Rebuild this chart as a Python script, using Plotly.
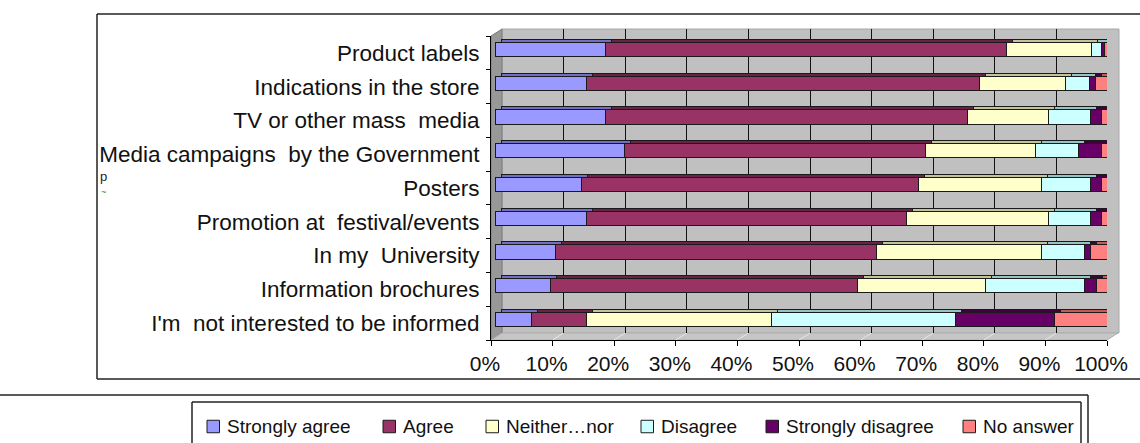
import plotly.graph_objects as go

# ---- data -------------------------------------------------------------
CATEGORIES = [
    "Product labels",
    "Indications in the store",
    "TV or other mass\u00a0 media",
    "Media campaigns\u00a0 by the Government",
    "Posters",
    "Promotion at\u00a0 festival/events",
    "In my\u00a0 University",
    "Information brochures",
    "I'm\u00a0 not interested to be informed",
]
SERIES = ["Strongly agree", "Agree", "Neither\u2026nor", "Disagree",
          "Strongly disagree", "No answer"]

STRONGLY_AGREE = [17.9, 14.7, 17.9, 20.9, 13.9, 14.7, 9.7, 8.9, 5.9]
AGREE = [65.0, 63.8, 58.8, 48.9, 54.8, 52.1, 52.2, 49.8, 8.8]
NEITHER = [13.8, 14.1, 13.0, 17.9, 19.9, 22.9, 26.7, 20.9, 30.1]
DISAGREE = [1.7, 3.8, 6.9, 7.0, 8.0, 6.9, 7.0, 16.0, 29.9]
STRONGLY_DISAGREE = [0.5, 1.0, 1.8, 3.7, 1.8, 1.8, 1.0, 1.9, 16.1]
NO_ANSWER = [1.1, 2.6, 1.6, 1.6, 1.6, 1.6, 3.4, 2.5, 9.2]

TICK_VALUES = [0, 10, 20, 30, 40, 50, 60, 70, 80, 90, 100]
TICK_LABELS = ["0%", "10%", "20%", "30%", "40%", "50%", "60%", "70%",
               "80%", "90%", "100%"]

# ---- styling ----------------------------------------------------------
FACE_COLORS = ["#9999FF", "#993366", "#FFFFCC", "#CCFFFF", "#660066", "#FF8080"]
TOP_COLORS = ["#6F6FC4", "#6A2247", "#C4C49A", "#95C4C4", "#420042", "#C45A5A"]
EDGE = "#1a1a1a"
FONT = "Liberation Sans, Arial, sans-serif"

W, H = 1140, 443


def fx(p):
    return p / W


def fy(p):
    return 1 - p / H


# geometry of the 3-D box (pixels)
FX0, FX1 = 491, 1107      # front plane 0% .. 100%
FY0, FY1 = 36, 340        # front plane top .. bottom
DX, DY = 11, -7           # depth of the box (back wall offset)
BX, BY = 5, -3            # bars' front face sits behind the front plane
TX, TY = 6, -3            # bar thickness seen as top / end faces
BAR_W = 0.42

n = len(CATEGORIES)
px_pct = (FX1 - FX0) / 100.0
px_row = (FY1 - FY0) / n


def x_range(dx):
    return [-dx / px_pct, 100 - dx / px_pct]


def y_range(dy):
    s = -dy / px_row
    return [n - 0.5 + s, -0.5 + s]


series_values = [STRONGLY_AGREE, AGREE, NEITHER, DISAGREE,
                 STRONGLY_DISAGREE, NO_ANSWER]

fig = go.Figure()

# empty traces so the wall-grid and front-axis subplots get drawn
fig.add_trace(go.Scatter(x=[], y=[], xaxis="x", yaxis="y",
                         showlegend=False, hoverinfo="skip"))

# bar bodies (top / end faces), drawn behind the front faces
for name, vals, col in zip(SERIES, series_values, TOP_COLORS):
    fig.add_trace(go.Bar(
        x=vals, y=CATEGORIES, orientation="h", name=name,
        xaxis="x2", yaxis="y2", width=BAR_W,
        marker=dict(color=col, line=dict(color=EDGE, width=1)),
        showlegend=False, hoverinfo="skip",
    ))

# bar front faces
for name, vals, col in zip(SERIES, series_values, FACE_COLORS):
    fig.add_trace(go.Bar(
        x=vals, y=CATEGORIES, orientation="h", name=name,
        xaxis="x3", yaxis="y3", width=BAR_W,
        marker=dict(color=col, line=dict(color=EDGE, width=1)),
        showlegend=False,
        hovertemplate="%{y}<br>" + name + ": %{x:.1f}%<extra></extra>",
    ))

fig.add_trace(go.Scatter(x=[], y=[], xaxis="x4", yaxis="y4",
                         showlegend=False, hoverinfo="skip"))

front_xdom = [fx(FX0), fx(FX1)]
front_ydom = [fy(FY1), fy(FY0)]
hidden = dict(visible=False, showgrid=False, zeroline=False, fixedrange=True,
              automargin=False)

shapes = []
# back wall, side wall and floor of the 3-D box
shapes.append(dict(type="rect", xref="paper", yref="paper", layer="below",
                   x0=fx(FX0 + DX), x1=fx(FX1 + DX + 1),
                   y0=fy(FY1 + DY), y1=fy(FY0 + DY),
                   fillcolor="#C0C0C0", line=dict(color="#A8A8A8", width=1)))
shapes.append(dict(type="path", xref="paper", yref="paper", layer="below",
                   path=(f"M{fx(FX0)},{fy(FY0)} L{fx(FX0 + DX)},{fy(FY0 + DY)} "
                         f"L{fx(FX0 + DX)},{fy(FY1 + DY)} L{fx(FX0)},{fy(FY1)} Z"),
                   fillcolor="#989898", line=dict(color="#7a7a7a", width=1)))
shapes.append(dict(type="path", xref="paper", yref="paper", layer="below",
                   path=(f"M{fx(FX0)},{fy(FY1)} L{fx(FX0 + DX)},{fy(FY1 + DY)} "
                         f"L{fx(FX1 + DX)},{fy(FY1 + DY)} L{fx(FX1)},{fy(FY1)} Z"),
                   fillcolor="#C6C6C6", line=dict(color="#B0B0B0", width=1)))
# gridlines running across the floor
for v in TICK_VALUES[1:-1]:
    xb = FX0 + DX + v * px_pct
    xf = FX0 + v * px_pct
    shapes.append(dict(type="line", xref="paper", yref="paper", layer="below",
                       x0=fx(xb), y0=fy(FY1 + DY), x1=fx(xf), y1=fy(FY1),
                       line=dict(color="#E8E8E8", width=1)))

# chart frame
frame = dict(color="#222222", width=1.5)
shapes += [
    dict(type="line", xref="paper", yref="paper", x0=fx(97), x1=1, y0=fy(14), y1=fy(14), line=frame),
    dict(type="line", xref="paper", yref="paper", x0=fx(97), x1=fx(97), y0=fy(14), y1=fy(379), line=frame),
    dict(type="line", xref="paper", yref="paper", x0=fx(97), x1=1, y0=fy(379), y1=fy(379), line=frame),
]
# legend frames
shapes += [
    dict(type="line", xref="paper", yref="paper", x0=0, x1=fx(1088), y0=fy(395), y1=fy(395), line=frame),
    dict(type="line", xref="paper", yref="paper", x0=fx(1088), x1=fx(1088), y0=fy(395), y1=0, line=frame),
    dict(type="line", xref="paper", yref="paper", x0=fx(192), x1=fx(1081), y0=fy(402), y1=fy(402), line=frame),
    dict(type="line", xref="paper", yref="paper", x0=fx(192), x1=fx(192), y0=fy(402), y1=0, line=frame),
    dict(type="line", xref="paper", yref="paper", x0=fx(1081), x1=fx(1081), y0=fy(402), y1=0, line=frame),
]

# legend keys
LEGEND_X = [207, 383, 486, 641, 766, 963]
LEGEND_Y = 426.5
annotations = []
for name, col, lx in zip(SERIES, FACE_COLORS, LEGEND_X):
    shapes.append(dict(type="rect", xref="paper", yref="paper",
                       x0=fx(lx), x1=fx(lx + 12.5),
                       y0=fy(LEGEND_Y + 6.25), y1=fy(LEGEND_Y - 6.25),
                       fillcolor=col, line=dict(color=EDGE, width=1)))
    annotations.append(dict(xref="paper", yref="paper", x=fx(lx + 18), y=fy(LEGEND_Y),
                            xanchor="left", yanchor="middle", showarrow=False,
                            text=name, font=dict(family=FONT, size=19, color="#111111")))

# stray glyphs along the left frame
annotations.append(dict(xref="paper", yref="paper", x=fx(98), y=fy(176),
                        xanchor="left", yanchor="middle", showarrow=False,
                        text="p", font=dict(family=FONT, size=13, color="#222222")))
annotations.append(dict(xref="paper", yref="paper", x=fx(99), y=fy(192),
                        xanchor="left", yanchor="middle", showarrow=False,
                        text="~", font=dict(family=FONT, size=9, color="#2E8B2E")))

fig.update_layout(
    width=W, height=H, autosize=False,
    margin=dict(l=0, r=0, t=0, b=0, pad=0, autoexpand=False),
    paper_bgcolor="white", plot_bgcolor="rgba(0,0,0,0)",
    barmode="stack", bargap=0,
    showlegend=False,
    font=dict(family=FONT, color="#111111"),
    # back wall gridlines
    xaxis=dict(domain=[fx(FX0 + DX), fx(FX1 + DX)], range=[0, 100], anchor="y",
               tickmode="array", tickvals=TICK_VALUES, showticklabels=False, ticks="",
               showgrid=True, gridcolor="#111111", gridwidth=1, automargin=False,
               zeroline=False, showline=False, fixedrange=True),
    yaxis=dict(domain=[fy(FY1 + DY), fy(FY0 + DY)], range=[0, 1], anchor="x",
               showgrid=False, zeroline=False, showline=False, showticklabels=False,
               ticks="", fixedrange=True, automargin=False),
    # bar bodies
    xaxis2=dict(domain=front_xdom, range=x_range(BX + TX), anchor="y2", **hidden),
    yaxis2=dict(domain=front_ydom, range=y_range(BY + TY), anchor="x2", type="category",
                categoryorder="array", categoryarray=CATEGORIES, **hidden),
    # bar front faces
    xaxis3=dict(domain=front_xdom, range=x_range(BX), anchor="y3", **hidden),
    yaxis3=dict(domain=front_ydom, range=y_range(BY), anchor="x3", type="category",
                categoryorder="array", categoryarray=CATEGORIES, **hidden),
    # front-plane axes with ticks and labels
    xaxis4=dict(domain=front_xdom, range=[0, 100], anchor="y4",
                tickmode="array", tickvals=TICK_VALUES, ticktext=TICK_LABELS,
                ticks="outside", ticklen=5, tickcolor="#000000", tickwidth=1,
                showline=True, linecolor="#000000", linewidth=1,
                showgrid=False, zeroline=False, fixedrange=True, automargin=False,
                ticklabelshift=-6,
                tickfont=dict(family=FONT, size=21, color="#111111")),
    yaxis4=dict(domain=front_ydom, range=[n - 0.5, -0.5], anchor="x4",
                tickmode="array", tickvals=list(range(n)), ticktext=CATEGORIES,
                ticks="", showline=True, linecolor="#000000", linewidth=1,
                showgrid=False, zeroline=False, fixedrange=True, automargin=False,
                ticklabelstandoff=6,
                minor=dict(tickmode="array", tickvals=[i - 0.5 for i in range(n + 1)],
                           ticks="outside", ticklen=4, tickcolor="#000000", showgrid=False),
                tickfont=dict(family=FONT, size=22.5, color="#111111")),
    shapes=shapes,
    annotations=annotations,
)

fig.write_html("out.html")
